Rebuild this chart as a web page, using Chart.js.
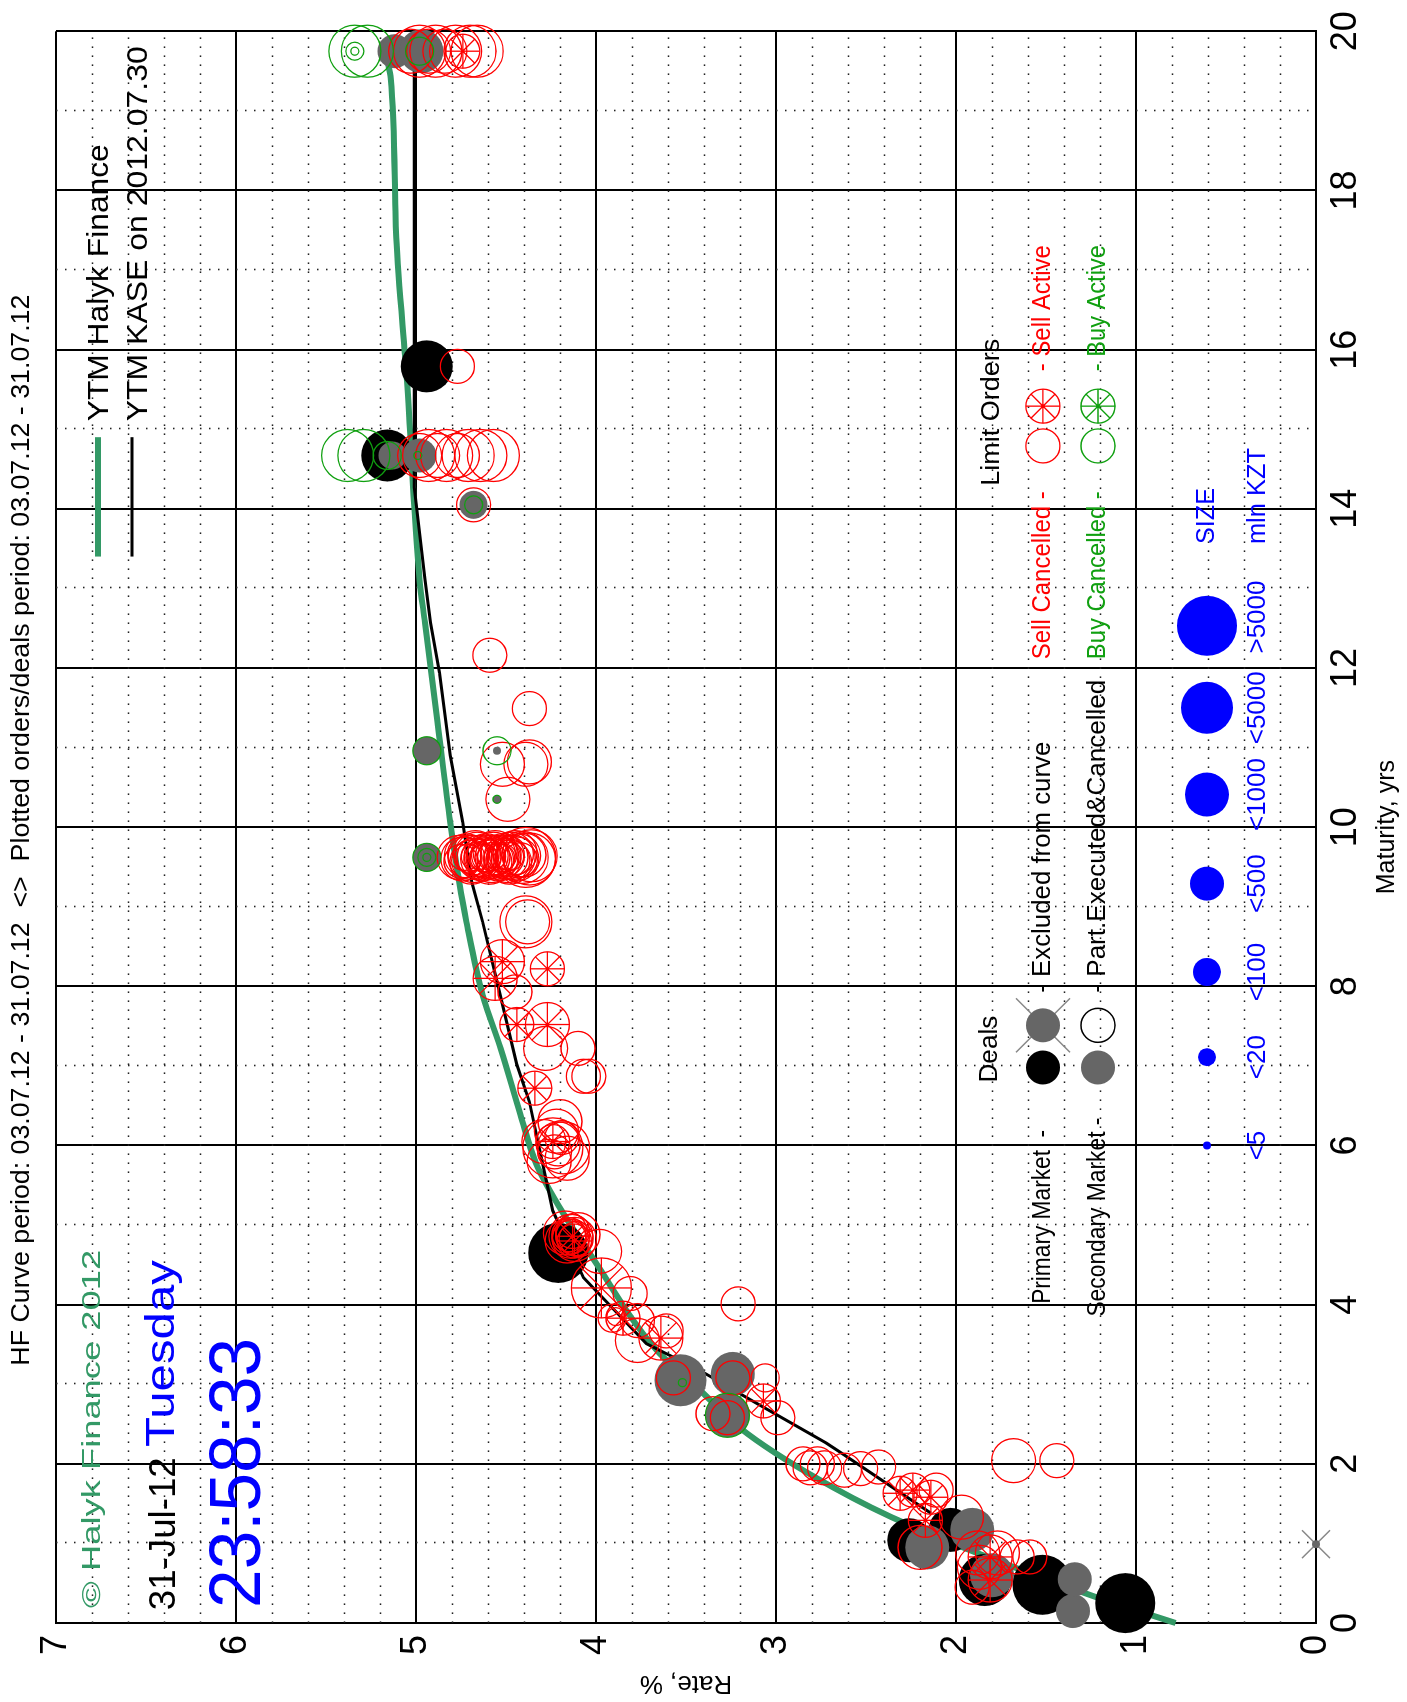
<!DOCTYPE html>
<html>
<head>
<meta charset="utf-8">
<script src="https://cdn.jsdelivr.net/npm/chart.js@4/dist/chart.umd.min.js"></script>
<style>
  html, body { margin: 0; padding: 0; background: #fff; overflow: hidden; width: 1407px; height: 1702px; }
  /* the curve is laid out landscape and turned a quarter counter-clockwise */
  #wrap { position: absolute; left: 0; top: 0; width: 1702px; height: 1407px;
          transform-origin: 0 0; transform: translateY(1702px) rotate(-90deg); }
  canvas { display: block; }
</style>
</head>
<body>
<div id="wrap"><canvas id="c" width="1702" height="1407"></canvas></div>
<script>
// ---- axis ticks ----
const maturityTicks = [0, 2, 4, 6, 8, 10, 12, 14, 16, 18, 20];
const rateTicks = [0, 1, 2, 3, 4, 5, 6, 7];

// ---- yield curves (maturity, yrs / rate, %) ----
const hfMaturity = [0, 0.34, 1.23, 1.70, 2.38, 2.92, 3.42, 4.59, 5.14, 5.76, 6.39, 7.22, 7.89, 8.81, 9.31, 10.06, 11.32, 12.57, 13.11, 15.61, 17.41, 19.41, 19.65];
const hfRate     = [0.78, 1.24, 2.26, 2.68, 3.16, 3.42, 3.66, 4.02, 4.18, 4.33, 4.42, 4.53, 4.63, 4.72, 4.76, 4.81, 4.88, 4.95, 4.98, 5.05, 5.11, 5.14, 5.16];
const kaseMaturity = [1.38, 2.14, 2.26, 2.79, 3.17, 3.51, 4.34, 5.18, 6.55, 7.02, 8.06, 8.81, 9.31, 10.06, 10.90, 11.94, 12.57, 13.11, 14.27, 19.65];
const kaseRate     = [2.14, 2.64, 2.72, 3.13, 3.42, 3.72, 4.07, 4.24, 4.37, 4.44, 4.55, 4.63, 4.69, 4.74, 4.81, 4.87, 4.92, 4.95, 5.01, 5.01];

// ---- deals and orders: [maturity, rate, size class] ----
// size classes, mln KZT: 0 <5, 1 <20, 2 <100, 3 <500, 4 <1000, 5 <5000, 6 >5000
const sizeLabels = ['<5', '<20', '<100', '<500', '<1000', '<5000', '>5000'];

const primaryDeals = [
  [0.25, 1.06, 6], [0.48, 1.52, 6], [0.54, 1.84, 5], [1.04, 2.26, 4], [1.17, 2.03, 4],
  [4.65, 4.21, 6], [15.79, 4.94, 5], [14.67, 5.16, 5]
];
const secondaryDeals = [
  [0.15, 1.35, 3], [0.55, 1.34, 3], [0.95, 2.16, 4], [1.17, 1.91, 4], [0.60, 1.80, 4],
  [3.05, 3.53, 5], [3.13, 3.24, 4], [2.61, 3.27, 4],
  [10.96, 4.94, 2], [9.62, 4.94, 2], [10.35, 4.55, 0], [10.96, 4.55, 0],
  [19.75, 5.12, 3], [19.75, 4.97, 4], [14.67, 4.98, 3], [14.67, 5.13, 2], [14.05, 4.68, 2]
];
const excludedDeals = [[0.99, 0.0, 0]];

const sellCancelled = [
  [19.75, 5.03, 4], [19.75, 4.98, 5], [19.75, 4.93, 4], [19.75, 4.89, 5], [19.75, 4.84, 4],
  [19.75, 4.78, 5], [19.75, 4.70, 5], [19.75, 4.66, 5],
  [15.79, 4.77, 3],
  [14.67, 4.98, 4], [14.67, 4.93, 5], [14.67, 4.88, 4], [14.67, 4.83, 5], [14.67, 4.77, 4],
  [14.67, 4.71, 5], [14.67, 4.64, 5], [14.67, 4.57, 5],
  [14.05, 4.68, 3],
  [12.16, 4.59, 3], [11.49, 4.37, 3],
  [10.79, 4.52, 4], [10.79, 4.39, 4], [10.82, 4.37, 4], [10.35, 4.49, 4],
  [9.62, 4.76, 4], [9.60, 4.74, 4], [9.64, 4.72, 4], [9.62, 4.70, 4], [9.58, 4.68, 4],
  [9.66, 4.66, 4], [9.62, 4.65, 4], [9.60, 4.63, 4], [9.64, 4.61, 4], [9.62, 4.60, 4],
  [9.58, 4.58, 4], [9.66, 4.57, 4], [9.62, 4.55, 4], [9.60, 4.54, 4], [9.64, 4.52, 4],
  [9.62, 4.50, 4], [9.58, 4.49, 4], [9.66, 4.47, 4], [9.62, 4.46, 4], [9.60, 4.44, 4],
  [9.64, 4.43, 4], [9.62, 4.41, 5], [9.62, 4.39, 6], [9.60, 4.37, 5], [9.64, 4.36, 5],
  [9.57, 4.75, 3], [9.67, 4.73, 3], [9.56, 4.69, 4], [9.68, 4.67, 4], [9.59, 4.64, 3],
  [9.65, 4.62, 3], [9.56, 4.59, 4], [9.68, 4.56, 4], [9.59, 4.53, 3], [9.65, 4.51, 3],
  [9.56, 4.48, 4], [9.68, 4.45, 4], [9.59, 4.42, 3], [9.65, 4.40, 4], [9.63, 4.58, 2],
  [9.61, 4.53, 2], [9.63, 4.48, 2], [9.61, 4.62, 2], [9.63, 4.67, 2], [9.61, 4.71, 2],
  [8.81, 4.39, 5], [8.81, 4.38, 4],
  [7.93, 4.45, 3], [7.22, 4.28, 4], [7.22, 4.10, 3], [6.87, 4.07, 3], [6.87, 4.04, 3],
  [6.05, 4.29, 4], [6.18, 4.22, 4], [5.97, 4.18, 5], [5.80, 4.26, 4], [5.84, 4.16, 4],
  [6.30, 4.20, 4], [5.97, 4.24, 6], [6.02, 4.21, 4], [5.92, 4.23, 3], [6.10, 4.19, 3],
  [4.90, 4.17, 4], [4.86, 4.14, 4], [4.82, 4.12, 4], [4.88, 4.10, 4], [4.80, 4.16, 4],
  [4.92, 4.13, 3], [4.84, 4.15, 3], [4.67, 3.98, 4], [4.88, 4.15, 3], [4.83, 4.11, 3],
  [4.14, 3.81, 3], [3.83, 3.91, 2], [3.85, 3.89, 1],
  [3.80, 3.77, 3], [3.55, 3.77, 4], [3.67, 3.61, 3], [4.01, 3.21, 3],
  [3.08, 3.57, 3], [3.08, 3.24, 3], [2.63, 3.35, 3], [2.58, 3.27, 3], [2.58, 2.99, 3], [3.08, 3.06, 2],
  [2.00, 2.85, 3], [1.95, 2.81, 3], [2.00, 2.77, 3],
  [2.04, 1.68, 4], [2.04, 1.44, 3],
  [1.94, 2.53, 3], [1.96, 2.43, 3], [1.95, 2.73, 3], [1.92, 2.62, 3],
  [1.67, 2.11, 3], [1.33, 1.97, 4], [0.95, 2.20, 4],
  [0.70, 1.87, 4], [0.88, 1.77, 4], [0.83, 1.66, 3], [0.83, 1.59, 3], [0.45, 1.91, 3], [0.88, 1.88, 4]
];
const sellActive = [
  [19.75, 4.74, 3],
  [8.31, 4.52, 4], [8.10, 4.56, 4], [8.22, 4.27, 3],
  [7.52, 4.44, 3], [7.52, 4.27, 4], [6.72, 4.34, 3], [6.05, 4.24, 3],
  [4.86, 4.13, 3], [4.80, 4.12, 3],
  [4.21, 3.97, 6], [3.83, 3.85, 3], [3.58, 3.64, 4], [2.79, 3.07, 3],
  [1.63, 2.31, 3], [1.67, 2.24, 3], [1.58, 2.14, 3], [1.29, 2.17, 3],
  [0.83, 1.81, 4], [0.54, 1.81, 4]
];
const buyCancelled = [
  [19.75, 5.34, 5], [19.75, 5.27, 5], [19.75, 5.34, 1], [19.75, 5.34, 0], [19.75, 4.98, 2],
  [14.67, 5.38, 5], [14.67, 5.29, 5], [14.67, 5.16, 2], [14.67, 4.99, 0],
  [14.05, 4.68, 1],
  [10.96, 4.94, 2], [9.62, 4.94, 2], [9.62, 4.94, 1], [9.62, 4.94, 0],
  [10.96, 4.55, 2], [10.35, 4.55, 0],
  [3.02, 3.52, 0], [2.61, 3.27, 4]
];

// ---- drawing ----
const FONT = '"Liberation Sans", Arial, sans-serif';
const SIZE_RADIUS = [4, 9, 14, 17, 22, 26, 30];
const GREEN_CURVE = '#339966';
const BUY_GREEN = '#10a010';
const RED = '#ff0000';
const BLUE = '#0000ff';
const GREY = '#666666';

const zip = (xs, ys) => xs.map((x, i) => ({ x, y: ys[i] }));
const pts = arr => arr.map(([x, y, s]) => ({ x, y, s }));
const radiusOf = c => SIZE_RADIUS[c.raw ? c.raw.s : 0];

function markers(label, data, style, order) {
  return Object.assign({
    label, data: pts(data), order, clip: false, showLine: false,
    pointRadius: radiusOf, pointHoverRadius: radiusOf
  }, style);
}

const datasets = [
  { label: 'YTM Halyk Finance', data: zip(hfMaturity, hfRate), showLine: true, order: 12, clip: false,
    borderColor: GREEN_CURVE, borderWidth: 6, pointRadius: 0, cubicInterpolationMode: 'monotone' },
  { label: 'YTM KASE on 2012.07.30', data: zip(kaseMaturity, kaseRate), showLine: true, order: 11, clip: false,
    borderColor: '#000', borderWidth: 3, pointRadius: 0 },
  markers('Excluded cross', excludedDeals, { pointStyle: 'crossRot', borderColor: '#888', borderWidth: 1.5,
    pointRadius: c => (radiusOf(c) + 10) * 1.41 }, 10),
  markers('Excluded', excludedDeals, { pointStyle: 'circle', backgroundColor: GREY, borderWidth: 0 }, 9),
  markers('Primary Market', primaryDeals, { pointStyle: 'circle', backgroundColor: '#000', borderWidth: 0 }, 8),
  markers('Secondary Market', secondaryDeals, { pointStyle: 'circle', backgroundColor: GREY, borderWidth: 0 }, 7),
  markers('Sell Cancelled', sellCancelled, { pointStyle: 'circle', backgroundColor: 'rgba(0,0,0,0)', borderColor: RED, borderWidth: 1.3 }, 6),
  markers('Sell Active', sellActive, { pointStyle: 'circle', backgroundColor: 'rgba(0,0,0,0)', borderColor: RED, borderWidth: 1.3 }, 5),
  markers('Sell Active spokes', sellActive, { pointStyle: 'star', borderColor: RED, borderWidth: 1.3 }, 4),
  markers('Buy Cancelled', buyCancelled, { pointStyle: 'circle', backgroundColor: 'rgba(0,0,0,0)', borderColor: BUY_GREEN, borderWidth: 1.3 }, 2)
];

// text helper: optional target width stretches the run horizontally
function text(ctx, str, x, y, o) {
  ctx.save();
  ctx.font = o.font;
  ctx.fillStyle = o.color || '#000';
  ctx.textBaseline = o.baseline || 'alphabetic';
  ctx.textAlign = o.align || 'left';
  ctx.translate(x, y);
  if (o.width) {
    const w = ctx.measureText(str).width;
    ctx.scale(o.width / w, 1);
  }
  ctx.fillText(str, 0, 0);
  ctx.restore();
}
function disc(ctx, x, y, r, fill) {
  ctx.beginPath(); ctx.arc(x, y, r, 0, Math.PI * 2); ctx.fillStyle = fill; ctx.fill();
}
function ring(ctx, x, y, r, color, lw) {
  ctx.beginPath(); ctx.arc(x, y, r, 0, Math.PI * 2); ctx.strokeStyle = color; ctx.lineWidth = lw || 1.3; ctx.stroke();
}
function spokes(ctx, x, y, r, color) {
  ctx.strokeStyle = color; ctx.lineWidth = 1.3;
  for (let k = 0; k < 4; k++) {
    const a = k * Math.PI / 4;
    ctx.beginPath();
    ctx.moveTo(x - Math.cos(a) * r, y - Math.sin(a) * r);
    ctx.lineTo(x + Math.cos(a) * r, y + Math.sin(a) * r);
    ctx.stroke();
  }
  disc(ctx, x, y, 2, color);
}

const minorGrid = {
  id: 'minorGrid',
  beforeDatasetsDraw(chart) {
    const { ctx, chartArea: a, scales: { x, y } } = chart;
    ctx.save();
    ctx.strokeStyle = '#222';
    ctx.lineWidth = 1.6;
    ctx.setLineDash([1.6, 7.4]);
    for (let k = 1; k < 35; k++) {
      if (k % 5 === 0) continue;
      const py = Math.round(y.getPixelForValue(k / 5)) + 0.5;
      ctx.beginPath(); ctx.moveTo(a.left, py); ctx.lineTo(a.right, py); ctx.stroke();
    }
    for (let m = 1; m < 20; m += 2) {
      const px = Math.round(x.getPixelForValue(m)) + 0.5;
      ctx.beginPath(); ctx.moveTo(px, a.top); ctx.lineTo(px, a.bottom); ctx.stroke();
    }
    ctx.restore();
  }
};

const annotations = {
  id: 'annotations',
  afterDraw(chart) {
    const { ctx, chartArea: a, scales: { x, y } } = chart;
    const X = m => x.getPixelForValue(m);
    const Y = r => y.getPixelForValue(r);
    ctx.save();

    // heading
    text(ctx, 'HF Curve period: 03.07.12 - 31.07.12  <>  Plotted orders/deals period: 03.07.12 - 31.07.12',
      (a.left + a.right) / 2 - 3, 22, { font: `26px ${FONT}`, align: 'center', baseline: 'middle', width: 1071 });

    // stamp, upper left
    text(ctx, '\u00A9 Halyk Finance 2012', X(0.19), Y(6.756), { font: `26px ${FONT}`, color: GREEN_CURVE, width: 358 });
    text(ctx, '31-Jul-12', X(0.16), Y(6.339), { font: `36px ${FONT}`, width: 153 });
    text(ctx, 'Tuesday', X(2.21), Y(6.344), { font: `40px ${FONT}`, color: BLUE, width: 187 });
    text(ctx, '23:58:33', X(0.19), Y(5.867), { font: `72px ${FONT}`, color: BLUE, width: 270 });

    // curve legend, upper right
    ctx.lineCap = 'butt';
    ctx.strokeStyle = GREEN_CURVE; ctx.lineWidth = 6;
    ctx.beginPath(); ctx.moveTo(X(13.40), Y(6.767)); ctx.lineTo(X(14.90), Y(6.767)); ctx.stroke();
    ctx.strokeStyle = '#000'; ctx.lineWidth = 3;
    ctx.beginPath(); ctx.moveTo(X(13.40), Y(6.578)); ctx.lineTo(X(14.90), Y(6.578)); ctx.stroke();
    text(ctx, 'YTM Halyk Finance', X(15.10), Y(6.711), { font: `30px ${FONT}`, width: 277 });
    text(ctx, 'YTM KASE on 2012.07.30', X(15.10), Y(6.494), { font: `30px ${FONT}`, width: 375 });

    // deals legend
    const f25 = `25px ${FONT}`;
    const row1 = Y(1.517), row2 = Y(1.211);
    text(ctx, 'Deals', X(6.79), Y(1.811), { font: f25, baseline: 'middle', width: 67 });
    text(ctx, 'Primary Market  -', X(4.01), row1, { font: f25, baseline: 'middle', width: 174 });
    disc(ctx, X(6.98), row1, 17, '#000');
    ctx.strokeStyle = '#888'; ctx.lineWidth = 1.5;
    ctx.beginPath();
    ctx.moveTo(X(7.51) - 27, row1 - 27); ctx.lineTo(X(7.51) + 27, row1 + 27);
    ctx.moveTo(X(7.51) - 27, row1 + 27); ctx.lineTo(X(7.51) + 27, row1 - 27);
    ctx.stroke();
    disc(ctx, X(7.51), row1, 17, GREY);
    text(ctx, '- Excluded from curve', X(7.92), row1, { font: f25, baseline: 'middle', width: 251 });
    text(ctx, 'Secondary Market -', X(3.85), row2, { font: f25, baseline: 'middle', width: 199 });
    disc(ctx, X(6.98), row2, 17, GREY);
    ring(ctx, X(7.51), row2, 17, '#000', 1.5);
    text(ctx, '- Part.Executed&Cancelled', X(7.92), row2, { font: f25, baseline: 'middle', width: 313 });

    // limit orders legend
    text(ctx, 'Limit Orders', X(14.29), Y(1.80), { font: f25, baseline: 'middle', width: 147 });
    text(ctx, 'Sell Cancelled -', X(12.11), row1, { font: f25, color: RED, baseline: 'middle', width: 168 });
    ring(ctx, X(14.79), row1, 17, RED);
    ring(ctx, X(15.29), row1, 17, RED);
    spokes(ctx, X(15.29), row1, 17, RED);
    text(ctx, '- Sell Active', X(15.73), row1, { font: f25, color: RED, baseline: 'middle', width: 126 });
    text(ctx, 'Buy Cancelled -', X(12.11), row2, { font: f25, color: BUY_GREEN, baseline: 'middle', width: 168 });
    ring(ctx, X(14.79), row2, 17, BUY_GREEN);
    ring(ctx, X(15.29), row2, 17, BUY_GREEN);
    spokes(ctx, X(15.29), row2, 17, BUY_GREEN);
    text(ctx, '- Buy Active', X(15.73), row2, { font: f25, color: BUY_GREEN, baseline: 'middle', width: 126 });

    // size legend
    const sizeAt = [6.0, 7.11, 8.18, 9.29, 10.41, 11.50, 12.53];
    const labelAt = [6.0, 7.11, 8.18, 9.29, 10.41, 11.50, 12.64];
    sizeLabels.forEach((lab, i) => {
      disc(ctx, X(sizeAt[i]), Y(0.606), SIZE_RADIUS[i], BLUE);
      text(ctx, lab, X(labelAt[i]), Y(0.322), { font: `26px ${FONT}`, color: BLUE, align: 'center', baseline: 'middle' });
    });
    text(ctx, 'SIZE', X(13.91), Y(0.606), { font: f25, color: BLUE, align: 'center', baseline: 'middle', width: 56 });
    text(ctx, 'mln KZT', X(14.16), Y(0.322), { font: f25, color: BLUE, align: 'center', baseline: 'middle', width: 96 });

    ctx.restore();
  }
};

new Chart(document.getElementById('c'), {
  type: 'scatter',
  data: { datasets },
  plugins: [minorGrid, annotations],
  options: {
    responsive: false,
    animation: false,
    events: [],
    devicePixelRatio: 1,
    layout: { padding: { top: 56, right: 27, left: 0, bottom: 0 } },
    plugins: { legend: { display: false }, tooltip: { enabled: false }, title: { display: false } },
    scales: {
      x: {
        type: 'linear', position: 'bottom', min: 0, max: 20,
        afterBuildTicks: s => { s.ticks = maturityTicks.map(v => ({ value: v })); },
        afterFit: s => { s.height = 91; },
        ticks: { font: { family: FONT, size: 36 }, color: '#000', padding: 8, maxRotation: 0, autoSkip: false },
        grid: { color: '#000', lineWidth: 2, drawTicks: false },
        border: { color: '#000', width: 2 },
        title: { display: true, text: 'Maturity, yrs', color: '#000', font: { family: FONT, size: 25 }, padding: { top: 0, bottom: 5 } }
      },
      y: {
        type: 'linear', position: 'left', min: 0, max: 7,
        afterBuildTicks: s => { s.ticks = rateTicks.map(v => ({ value: v })); },
        afterFit: s => { s.width = 79; },
        ticks: { font: { family: FONT, size: 36 }, color: '#000', padding: 12, autoSkip: false },
        grid: { color: '#000', lineWidth: 2, drawTicks: false },
        border: { color: '#000', width: 2 },
        title: { display: true, text: 'Rate, %', color: '#000', font: { family: FONT, size: 26 }, padding: { top: 3, bottom: 0 } }
      }
    }
  }
});
</script>
</body>
</html>
